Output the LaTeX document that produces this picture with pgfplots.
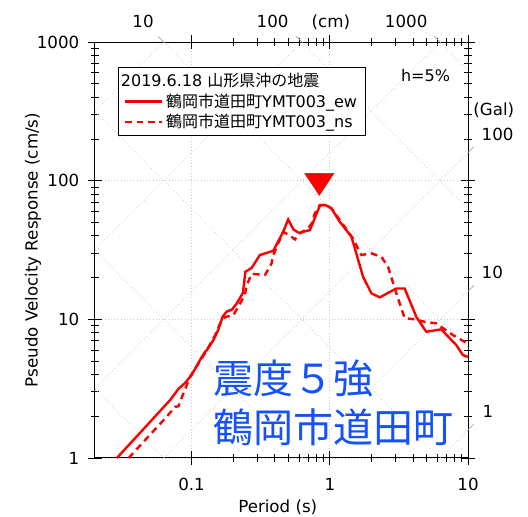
\documentclass[border=0pt]{standalone}
\usepackage{pgfplots}
\pgfplotsset{compat=1.18}
\usepackage{fontspec}
\setmainfont{DejaVu Sans}
\newfontfamily\jp{Noto Sans CJK JP}
\definecolor{quakeblue}{RGB}{22,82,250}
\definecolor{gridgray}{RGB}{205,205,205}
\definecolor{spred}{RGB}{250,0,0}

\begin{document}
\begin{tikzpicture}[scalelabel/.style={font=\fontsize{12.5}{15}\selectfont}]
\begin{axis}[
  xmode=log, ymode=log,
  scale only axis, width=279.75pt, height=312pt,
  xmin=0.02, xmax=10, ymin=1, ymax=1000,
  xtick={0.1,1,10}, xticklabels={0.1,1,10},
  ytick={1,10,100,1000}, yticklabels={1,10,100,1000},
  tick align=center, xtick pos=both, ytick pos=both,
  xticklabel pos=lower, yticklabel pos=left,
  major tick length=10.5pt, minor tick length=5.5pt,
  every tick/.style={black, line width=0.6pt},
  axis line style={line width=0.75pt},
  grid=major, major grid style={gridgray, dotted, line width=0.6pt},
  tick label style={font=\fontsize{12.5}{15}\selectfont},
  xticklabel style={yshift=-6.5pt},
  yticklabel style={xshift=-3pt},
  label style={font=\fontsize{12.5}{15}\selectfont},
  xlabel={Period (s)},
  ylabel={Pseudo Velocity Response (cm/s)},
  xlabel style={at={(axis description cs:0.49,-0.118)}, anchor=center},
  ylabel style={at={(axis description cs:-0.166,0.5)}, anchor=center},
  clip=false,
  legend style={at={(axis description cs:0.0617,0.94)}, anchor=north west,
    draw=black, line width=0.75pt, fill=white,
    font=\fontsize{12}{14}\selectfont,
    inner xsep=4pt, inner ysep=2pt, row sep=0pt},
  legend cell align=left,
  legend image code/.code={\draw[#1] (0pt,0pt) -- (28pt,0pt);},
]

% tripartite guide lines: constant displacement (slope -1)
\pgfplotsset{guide/.style={forget plot, gridgray, dotted, line width=0.6pt}}
\addplot[guide] coordinates {(0.02,3.1416) (0.062832,1)};
\addplot[guide] coordinates {(0.02,31.416) (0.62832,1)};
\addplot[guide] coordinates {(0.02,314.16) (6.2832,1)};
\addplot[guide] coordinates {(0.062832,1000) (10,6.2832)};
\addplot[guide] coordinates {(0.62832,1000) (10,62.832)};
\addplot[guide] coordinates {(6.2832,1000) (10,628.32)};
% constant acceleration (slope +1)
\addplot[guide] coordinates {(6.2832,1) (10,1.59155)};
\addplot[guide] coordinates {(0.62832,1) (10,15.9155)};
\addplot[guide] coordinates {(0.062832,1) (10,159.155)};
\addplot[guide] coordinates {(0.02,3.1831) (6.2832,1000)};
\addplot[guide] coordinates {(0.02,31.831) (0.62832,1000)};
\addplot[guide] coordinates {(0.02,318.31) (0.062832,1000)};
% short marks where labelled guide lines leave the frame
\pgfplotsset{gtick/.style={forget plot, gray!70, line width=0.5pt}}
\addplot[gtick] coordinates {(0.062832,1000) (0.056862,1105)};
\addplot[gtick] coordinates {(0.62832,1000) (0.56862,1105)};
\addplot[gtick] coordinates {(6.2832,1000) (5.6862,1105)};
\addplot[gtick] coordinates {(10,1.59155) (11.05,1.7587)};
\addplot[gtick] coordinates {(10,15.9155) (11.05,17.587)};
\addplot[gtick] coordinates {(10,159.155) (11.05,175.87)};

\addlegendimage{empty legend}
\addlegendentry{\hspace*{-34pt}2019.6.18 {\jp 山形県沖の地震}}

% EW component
\addplot[spred, line width=1.8pt] coordinates {
 (0.0288,1.0) (0.070,2.62) (0.0803,3.15) (0.0898,3.48) (0.100,3.97)
 (0.1151,5.09) (0.1252,5.84) (0.129,6.0) (0.144,7.1) (0.156,8.4)
 (0.168,10.5) (0.180,11.4) (0.195,11.7) (0.212,13.0) (0.235,15.5)
 (0.245,22.0) (0.272,23.5) (0.312,29.1) (0.39,31.2) (0.46,42.8)
 (0.50,52.5) (0.545,44.5) (0.60,42.0) (0.718,44.0) (0.847,66.0)
 (0.90,67.0) (0.95,66.0) (1.03,63.0) (1.18,50.5) (1.435,39.4)
 (1.74,20.3) (2.0,15.4) (2.30,14.4) (3.03,16.7) (3.48,16.7)
 (4.23,10.4) (4.99,8.14) (6.40,8.47) (8.22,6.53) (9.18,5.53) (10,5.35)
};
\addlegendentry{{\jp 鶴岡市道田町}YMT003\_ew}

% NS component
\addplot[spred, line width=1.8pt, dash pattern=on 5pt off 3.6pt] coordinates {
 (0.035,1.0) (0.0662,1.99) (0.076,2.34) (0.0803,2.36) (0.0873,2.93)
 (0.0976,3.86) (0.129,6.0) (0.148,7.7) (0.165,9.9) (0.175,10.4)
 (0.2005,10.7) (0.243,15.0) (0.250,17.5) (0.272,21.3) (0.34,20.9)
 (0.379,25.3) (0.39,29.1) (0.46,42.8) (0.529,39.4) (0.559,37.7)
 (0.607,41.7) (0.697,45.3) (0.738,49.0) (0.779,58.0) (0.847,66.7)
 (0.946,66.7) (1.03,63.0) (1.47,38.4) (1.69,29.1) (2.0,29.9)
 (2.36,28.3) (2.64,23.9) (3.03,15.4) (3.48,10.2) (4.11,10.0)
 (4.85,9.6) (5.89,9.36) (7.77,7.71) (9.7,6.78) (10,6.7)
};
\addlegendentry{{\jp 鶴岡市道田町}YMT003\_ns}

% peak marker
\addplot[forget plot, only marks, mark=triangle*, mark size=12.6pt,
  mark options={fill=spred, draw=spred, yscale=-0.87}] coordinates {(0.84,100)};

% displacement scale labels (top)
\node[scalelabel, anchor=base east, xshift=-4pt, yshift=10.5pt] at (axis cs:0.062832,1000) {10};
\node[scalelabel, anchor=base east, xshift=-6.5pt, yshift=10.5pt] at (axis cs:0.62832,1000) {100};
\node[scalelabel, anchor=base west, xshift=3.75pt, yshift=10.5pt] at (axis cs:0.62832,1000) {(cm)};
\node[scalelabel, anchor=base east, xshift=-6pt, yshift=10.5pt] at (axis cs:6.2832,1000) {1000};
% acceleration scale labels (right)
\node[scalelabel, anchor=base west, xshift=0.5pt, yshift=28pt] at (axis cs:10,159.155) {(Gal)};
\node[scalelabel, anchor=base west, xshift=6.75pt, yshift=9.5pt] at (axis cs:10,159.155) {100};
\node[scalelabel, anchor=base west, xshift=6.75pt, yshift=10pt] at (axis cs:10,15.9155) {10};
\node[scalelabel, anchor=base west, xshift=7.5pt, yshift=9.75pt] at (axis cs:10,1.59155) {1};

\node[font=\fontsize{12}{14}\selectfont] at (axis cs:4.93,577) {h=5\%};

\node[anchor=west, align=left, inner sep=0pt, text=quakeblue,
  font=\jp\fontsize{30}{36.75}\selectfont] at (axis cs:0.143,2.51)
  {震度５強\\鶴岡市道田町};
\end{axis}
\pgfresetboundingbox
\path ([shift={(-71.25pt,-44.25pt)}]current axis.south west)
  rectangle ([shift={(45pt,31.5pt)}]current axis.north east);
\end{tikzpicture}
\end{document}
